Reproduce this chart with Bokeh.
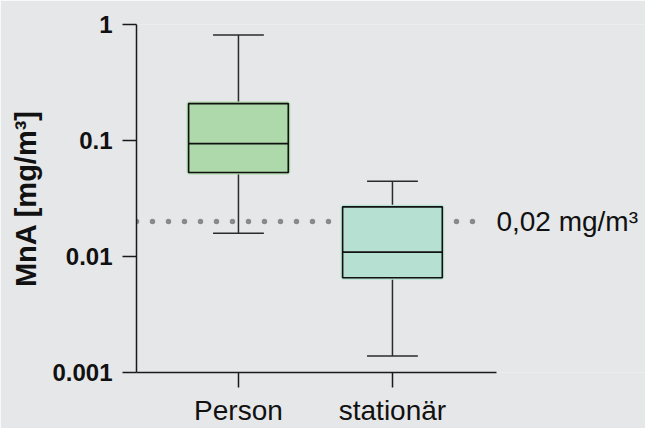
from bokeh.plotting import figure
from bokeh.models import Range1d, FixedTicker, Label
from bokeh.embed import file_html
from bokeh.resources import INLINE

# ---- data ----
categories = ["Person", "stationär"]
positions = [0, 1]
whisker_low = [0.0159, 0.00139]
q1 = [0.053, 0.00655]
median = [0.094, 0.0109]
q3 = [0.208, 0.0268]
whisker_high = [0.81, 0.0446]
box_colors = ["#aed9ab", "#b6e0d1"]
limit_value = 0.02
limit_label = "0,02 mg/m³"
y_ticks = [0.001, 0.01, 0.1, 1]
y_tick_labels = ["0.001", "0.01", "0.1", "1"]
y_label = "MnA [mg/m³]"

BG = "#e6e7e8"
FONT = "Liberation Sans"

x_start = -0.662      # left end of the x axis
axis_end = 1.675      # right end of the drawn x axis line
x_end = 2.643         # frame extends further right to hold the limit label
p = figure(width=645, height=428, y_axis_type="log",
           x_range=Range1d(x_start, x_end), y_range=Range1d(0.001, 1),
           output_backend="svg", toolbar_location=None,
           min_border_left=136, min_border_right=0,
           min_border_top=24, min_border_bottom=56)
p.background_fill_color = BG
p.border_fill_color = BG
p.outline_line_color = None
p.xgrid.visible = False
p.ygrid.visible = False

# dotted limit line (drawn first, behind boxes)
p.line([x_start, 1.57], [limit_value, limit_value], line_color="#8a8a8a",
       line_width=5.5, line_dash="0 16", line_cap="round")

box_w = 0.647
cap_w = 0.33
left = [x - box_w / 2 for x in positions]
right = [x + box_w / 2 for x in positions]
cap_l = [x - cap_w / 2 for x in positions]
cap_r = [x + cap_w / 2 for x in positions]

wcol = "#2b2b2b"
# whiskers
p.segment(positions, q3, positions, whisker_high, line_color=wcol, line_width=1.5)
p.segment(positions, whisker_low, positions, q1, line_color=wcol, line_width=1.5)
p.segment(cap_l, whisker_high, cap_r, whisker_high, line_color=wcol, line_width=1.5)
p.segment(cap_l, whisker_low, cap_r, whisker_low, line_color=wcol, line_width=1.5)

# boxes: soft halo in fill colour, then black outline
p.quad(left=left, right=right, bottom=q1, top=q3, fill_color=box_colors,
       line_color=box_colors, line_width=4)
p.quad(left=left, right=right, bottom=q1, top=q3, fill_color=None,
       line_color="#111111", line_width=1.6)
p.segment(left, median, right, median, line_color="#111111", line_width=1.6)

lab = Label(x=axis_end, y=limit_value, text=limit_label, text_font=FONT,
            text_font_size="28px", text_color="#111111", text_align="left",
            text_baseline="middle", x_offset=0)
p.add_layout(lab)

# axes
xa = p.xaxis[0]
xa.bounds = (x_start, axis_end)
xa.ticker = FixedTicker(ticks=positions)
xa.major_label_overrides = {pos: c for pos, c in zip(positions, categories)}
xa.major_label_text_font = FONT
xa.major_label_text_font_size = "28px"
xa.major_label_text_color = "#111111"
xa.major_tick_out = 15
xa.major_tick_in = 0
xa.minor_tick_out = 0
xa.minor_tick_in = 0
xa.major_label_standoff = 7
xa.axis_line_color = "#1a1a1a"
xa.axis_line_width = 1.5
xa.major_tick_line_color = "#1a1a1a"
xa.major_tick_line_width = 1.5

ya = p.yaxis[0]
ya.ticker = FixedTicker(ticks=y_ticks)
ya.major_label_overrides = {t: l for t, l in zip(y_ticks, y_tick_labels)}
ya.major_label_text_font = FONT
ya.major_label_text_font_style = "bold"
ya.major_label_text_font_size = "24px"
ya.major_label_text_color = "#111111"
ya.major_tick_out = 14
ya.major_tick_in = 0
ya.minor_tick_out = 0
ya.minor_tick_in = 0
ya.major_label_standoff = 10
ya.axis_line_color = "#1a1a1a"
ya.axis_line_width = 1.5
ya.major_tick_line_color = "#1a1a1a"
ya.major_tick_line_width = 1.5
ya.axis_label = y_label
ya.axis_label_text_font = FONT
ya.axis_label_text_font_style = "bold"
ya.axis_label_text_font_size = "29px"
ya.axis_label_text_color = "#111111"
ya.axis_label_standoff = 7

open("out.html", "w").write(file_html(p, INLINE))
